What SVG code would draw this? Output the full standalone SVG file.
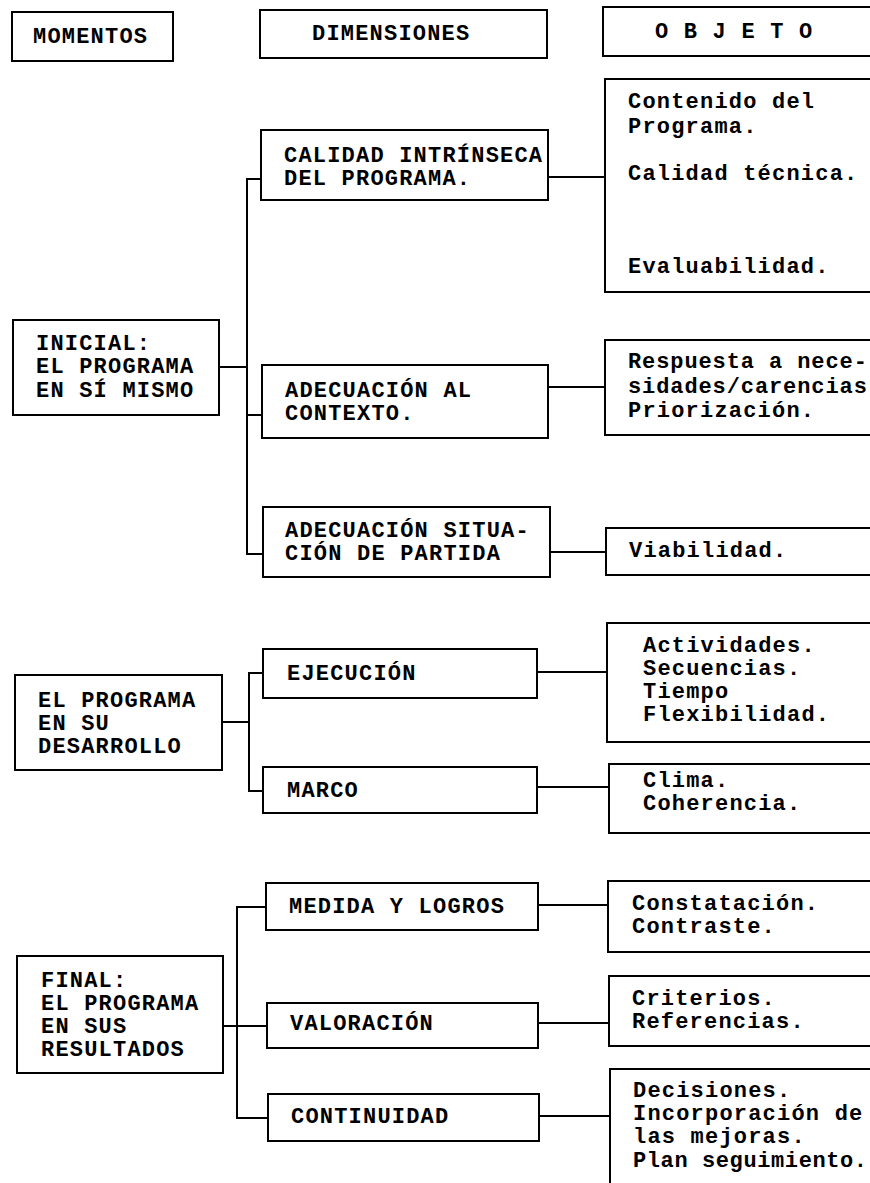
<svg xmlns="http://www.w3.org/2000/svg" width="870" height="1183" viewBox="0 0 870 1183">
  <style>
    .box { fill: #ffffff; stroke: #000000; stroke-width: 2; }
    .wire { fill: none; stroke: #000000; stroke-width: 2; }
    text { font-family: "Liberation Mono", "Courier New", monospace; font-size: 22px; letter-spacing: 1.2px; font-weight: bold; fill: #000000; }
    .tight { letter-spacing: 0.9px; }
    .tighter { letter-spacing: 0.6px; }
  </style>
  <rect width="870" height="1183" fill="#ffffff"/>

  <!-- column headers -->
  <g id="hdr-momentos">
    <rect class="box" x="12" y="12" width="161" height="49"/>
    <text x="33" y="43">MOMENTOS</text>
  </g>
  <g id="hdr-dimensiones">
    <rect class="box" x="260" y="10" width="287" height="48"/>
    <text x="312" y="40">DIMENSIONES</text>
  </g>
  <g id="hdr-objeto">
    <rect class="box" x="603" y="7" width="280" height="49"/>
    <text x="655" y="38">O B J E T O</text>
  </g>

  <!-- connectors -->
  <g id="connectors" class="wire">
    <!-- inicial -->
    <path d="M219 367 H247"/>
    <path d="M261 179 H247 V554 H263"/>
    <path d="M247 415 H262"/>
    <path d="M548 177 H605"/>
    <path d="M548 387 H605"/>
    <path d="M550 552 H606"/>
    <!-- desarrollo -->
    <path d="M222 722 H249"/>
    <path d="M263 673 H249 V791 H263"/>
    <path d="M537 672 H607"/>
    <path d="M537 787 H609"/>
    <!-- final -->
    <path d="M223 1026 H267"/>
    <path d="M266 907 H237 V1118 H268"/>
    <path d="M538 905 H608"/>
    <path d="M538 1023 H609"/>
    <path d="M539 1116 H610"/>
  </g>

  <!-- moment: inicial -->
  <g id="m-inicial">
    <rect class="box" x="13" y="320" width="206" height="95"/>
    <text x="36" y="350">INICIAL:</text>
    <text x="36" y="373">EL PROGRAMA</text>
    <text x="36" y="397">EN SÍ MISMO</text>
  </g>
  <g id="d-calidad">
    <rect class="box" x="261" y="130" width="287" height="70"/>
    <text x="284" y="162">CALIDAD INTRÍNSECA</text>
    <text x="284" y="185">DEL PROGRAMA.</text>
  </g>
  <g id="o-calidad">
    <rect class="box" x="605" y="79" width="280" height="213"/>
    <text x="628" y="108">Contenido del</text>
    <text x="628" y="133">Programa.</text>
    <text x="628" y="180">Calidad técnica.</text>
    <text x="628" y="273">Evaluabilidad.</text>
  </g>
  <g id="d-contexto">
    <rect class="box" x="262" y="365" width="286" height="73"/>
    <text x="285" y="397">ADECUACIÓN AL</text>
    <text x="285" y="420">CONTEXTO.</text>
  </g>
  <g id="o-contexto">
    <rect class="box" x="605" y="340" width="280" height="95"/>
    <text class="tight" x="628" y="368">Respuesta a nece-</text>
    <text class="tight" x="628" y="393">sidades/carencias</text>
    <text x="628" y="417">Priorización.</text>
  </g>
  <g id="d-situacion">
    <rect class="box" x="263" y="507" width="287" height="70"/>
    <text x="285" y="537">ADECUACIÓN SITUA-</text>
    <text x="285" y="560">CIÓN DE PARTIDA</text>
  </g>
  <g id="o-situacion">
    <rect class="box" x="606" y="528" width="280" height="47"/>
    <text x="629" y="557">Viabilidad.</text>
  </g>

  <!-- moment: desarrollo -->
  <g id="m-desarrollo">
    <rect class="box" x="15" y="675" width="207" height="95"/>
    <text x="38" y="707">EL PROGRAMA</text>
    <text x="38" y="730">EN SU</text>
    <text x="38" y="753">DESARROLLO</text>
  </g>
  <g id="d-ejecucion">
    <rect class="box" x="263" y="649" width="274" height="49"/>
    <text x="287" y="680">EJECUCIÓN</text>
  </g>
  <g id="o-ejecucion">
    <rect class="box" x="607" y="623" width="280" height="119"/>
    <text x="643" y="652">Actividades.</text>
    <text x="643" y="675">Secuencias.</text>
    <text x="643" y="698">Tiempo</text>
    <text x="643" y="721">Flexibilidad.</text>
  </g>
  <g id="d-marco">
    <rect class="box" x="263" y="767" width="274" height="46"/>
    <text x="287" y="797">MARCO</text>
  </g>
  <g id="o-marco">
    <rect class="box" x="609" y="764" width="280" height="69"/>
    <text x="643" y="787">Clima.</text>
    <text x="643" y="810">Coherencia.</text>
  </g>

  <!-- moment: final -->
  <g id="m-final">
    <rect class="box" x="17" y="956" width="206" height="117"/>
    <text x="41" y="987">FINAL:</text>
    <text x="41" y="1010">EL PROGRAMA</text>
    <text x="41" y="1033">EN SUS</text>
    <text x="41" y="1056">RESULTADOS</text>
  </g>
  <g id="d-medida">
    <rect class="box" x="266" y="883" width="272" height="47"/>
    <text x="289" y="913">MEDIDA Y LOGROS</text>
  </g>
  <g id="o-medida">
    <rect class="box" x="608" y="881" width="280" height="71"/>
    <text x="632" y="910">Constatación.</text>
    <text x="632" y="933">Contraste.</text>
  </g>
  <g id="d-valoracion">
    <rect class="box" x="267" y="1003" width="271" height="45"/>
    <text x="290" y="1030">VALORACIÓN</text>
  </g>
  <g id="o-valoracion">
    <rect class="box" x="609" y="976" width="280" height="70"/>
    <text x="632" y="1005">Criterios.</text>
    <text x="632" y="1028">Referencias.</text>
  </g>
  <g id="d-continuidad">
    <rect class="box" x="268" y="1094" width="271" height="47"/>
    <text x="291" y="1123">CONTINUIDAD</text>
  </g>
  <g id="o-continuidad">
    <rect class="box" x="610" y="1069" width="280" height="140"/>
    <text x="633" y="1097">Decisiones.</text>
    <text x="633" y="1120">Incorporación de</text>
    <text x="633" y="1143">las mejoras.</text>
    <text class="tighter" x="633" y="1167">Plan seguimiento.</text>
  </g>
</svg>
